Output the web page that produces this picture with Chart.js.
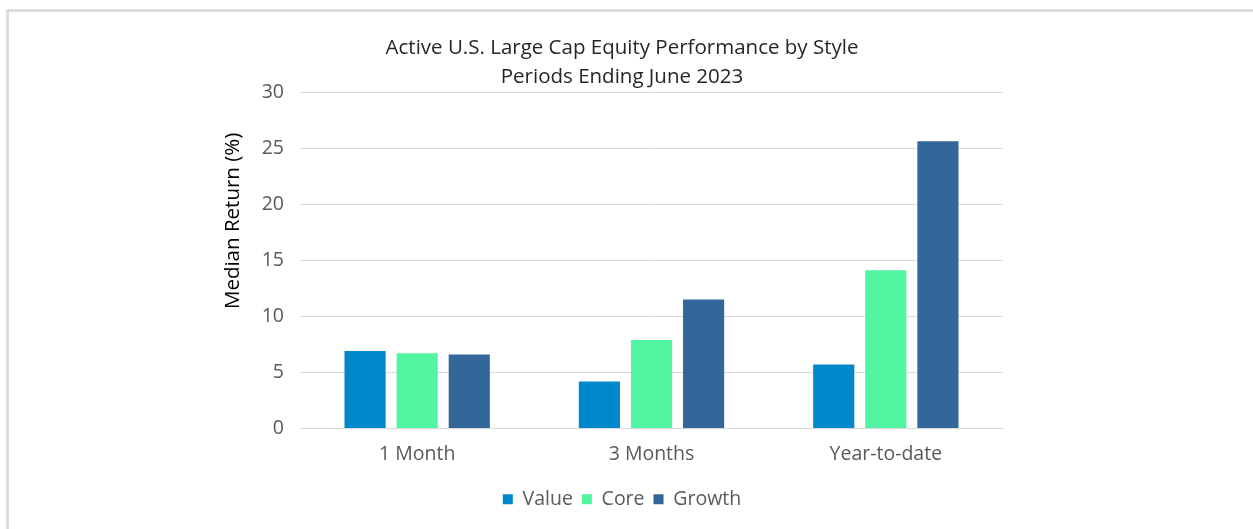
<!DOCTYPE html>
<html>
<head>
<meta charset="utf-8">
<script src="https://cdn.jsdelivr.net/npm/chart.js@4.4.0/dist/chart.umd.min.js"></script>
<style>
  html, body { margin: 0; padding: 0; background: #ffffff; }
  #frame {
    position: absolute; left: 6px; top: 9px; width: 1260px; height: 540px;
    border: 3px solid #dcdee2; box-sizing: border-box;
  }
  #wrap { position: absolute; left: 0; top: 0; width: 1253px; height: 529px; }
</style>
</head>
<body>
<div id="frame"></div>
<div id="wrap"><canvas id="chart"></canvas></div>
<script>
// Données
const periods = ['1 Month', '3 Months', 'Year-to-date'];
const valueReturns = [6.9, 4.2, 5.7];
const coreReturns = [6.7, 7.9, 14.1];
const growthReturns = [6.6, 11.5, 25.6];
const yTicks = [0, 5, 10, 15, 20, 25, 30];
const yAxisTitle = 'Median Return (%)';

const tickColor = '#595959';
const fontFamily = '"Open Sans", sans-serif';

// Titre de l'axe Y dessiné à la main (décalé vers le haut comme dans Excel)
const yTitlePlugin = {
    id: 'yTitlePlugin',
    afterDraw(chart) {
        const ctx = chart.ctx;
        const area = chart.chartArea;
        ctx.save();
        ctx.translate(area.left - 67, area.top + (area.bottom - area.top) * 0.383);
        ctx.rotate(-Math.PI / 2);
        ctx.font = '20.5px ' + fontFamily;
        ctx.fillStyle = '#000000';
        ctx.textAlign = 'center';
        ctx.textBaseline = 'middle';
        ctx.fillText(yAxisTitle, 0, 0);
        ctx.restore();
    }
};

const config = {
    type: 'bar',
    data: {
        labels: periods,
        datasets: [
            { label: 'Value', data: valueReturns, backgroundColor: '#0088cc' },
            { label: 'Core', data: coreReturns, backgroundColor: '#52f5a2' },
            { label: 'Growth', data: growthReturns, backgroundColor: '#336699' }
        ]
    },
    options: {
        responsive: true,
        maintainAspectRatio: false,
        animation: false,
        categoryPercentage: 0.667,
        barPercentage: 0.79,
        layout: {
            padding: { top: 0, left: 241, right: 250, bottom: 10 }
        },
        plugins: {
            title: {
                display: true,
                text: ['Active U.S. Large Cap Equity Performance by Style', 'Periods Ending June 2023'],
                color: '#262626',
                font: { family: fontFamily, size: 20.5, weight: 'normal', lineHeight: 1.415 },
                padding: { top: 33.5, bottom: 0.5 }
            },
            legend: {
                display: true,
                position: 'bottom',
                labels: {
                    color: tickColor,
                    boxWidth: 10,
                    boxHeight: 10,
                    padding: 9,
                    font: { family: fontFamily, size: 19.5 }
                }
            },
            tooltip: { enabled: false }
        },
        scales: {
            x: {
                grid: { display: false, drawTicks: false },
                border: { color: '#d9d9d9', width: 1 },
                ticks: {
                    color: tickColor,
                    padding: 7.75,
                    font: { family: fontFamily, size: 19.5, lineHeight: 1.872 }
                }
            },
            y: {
                min: 0,
                max: 30,
                afterBuildTicks: function(scale) {
                    scale.ticks = yTicks.map(v => ({ value: v }));
                },
                afterFit: function(scale) {
                    scale.width = 59;
                },
                grid: { color: '#d9d9d9', lineWidth: 1, drawTicks: false },
                border: { display: false },
                ticks: {
                    color: tickColor,
                    padding: 16,
                    font: { family: fontFamily, size: 19.5 }
                }
            }
        }
    },
    plugins: [yTitlePlugin]
};

new Chart(document.getElementById('chart'), config);
</script>
</body>
</html>
